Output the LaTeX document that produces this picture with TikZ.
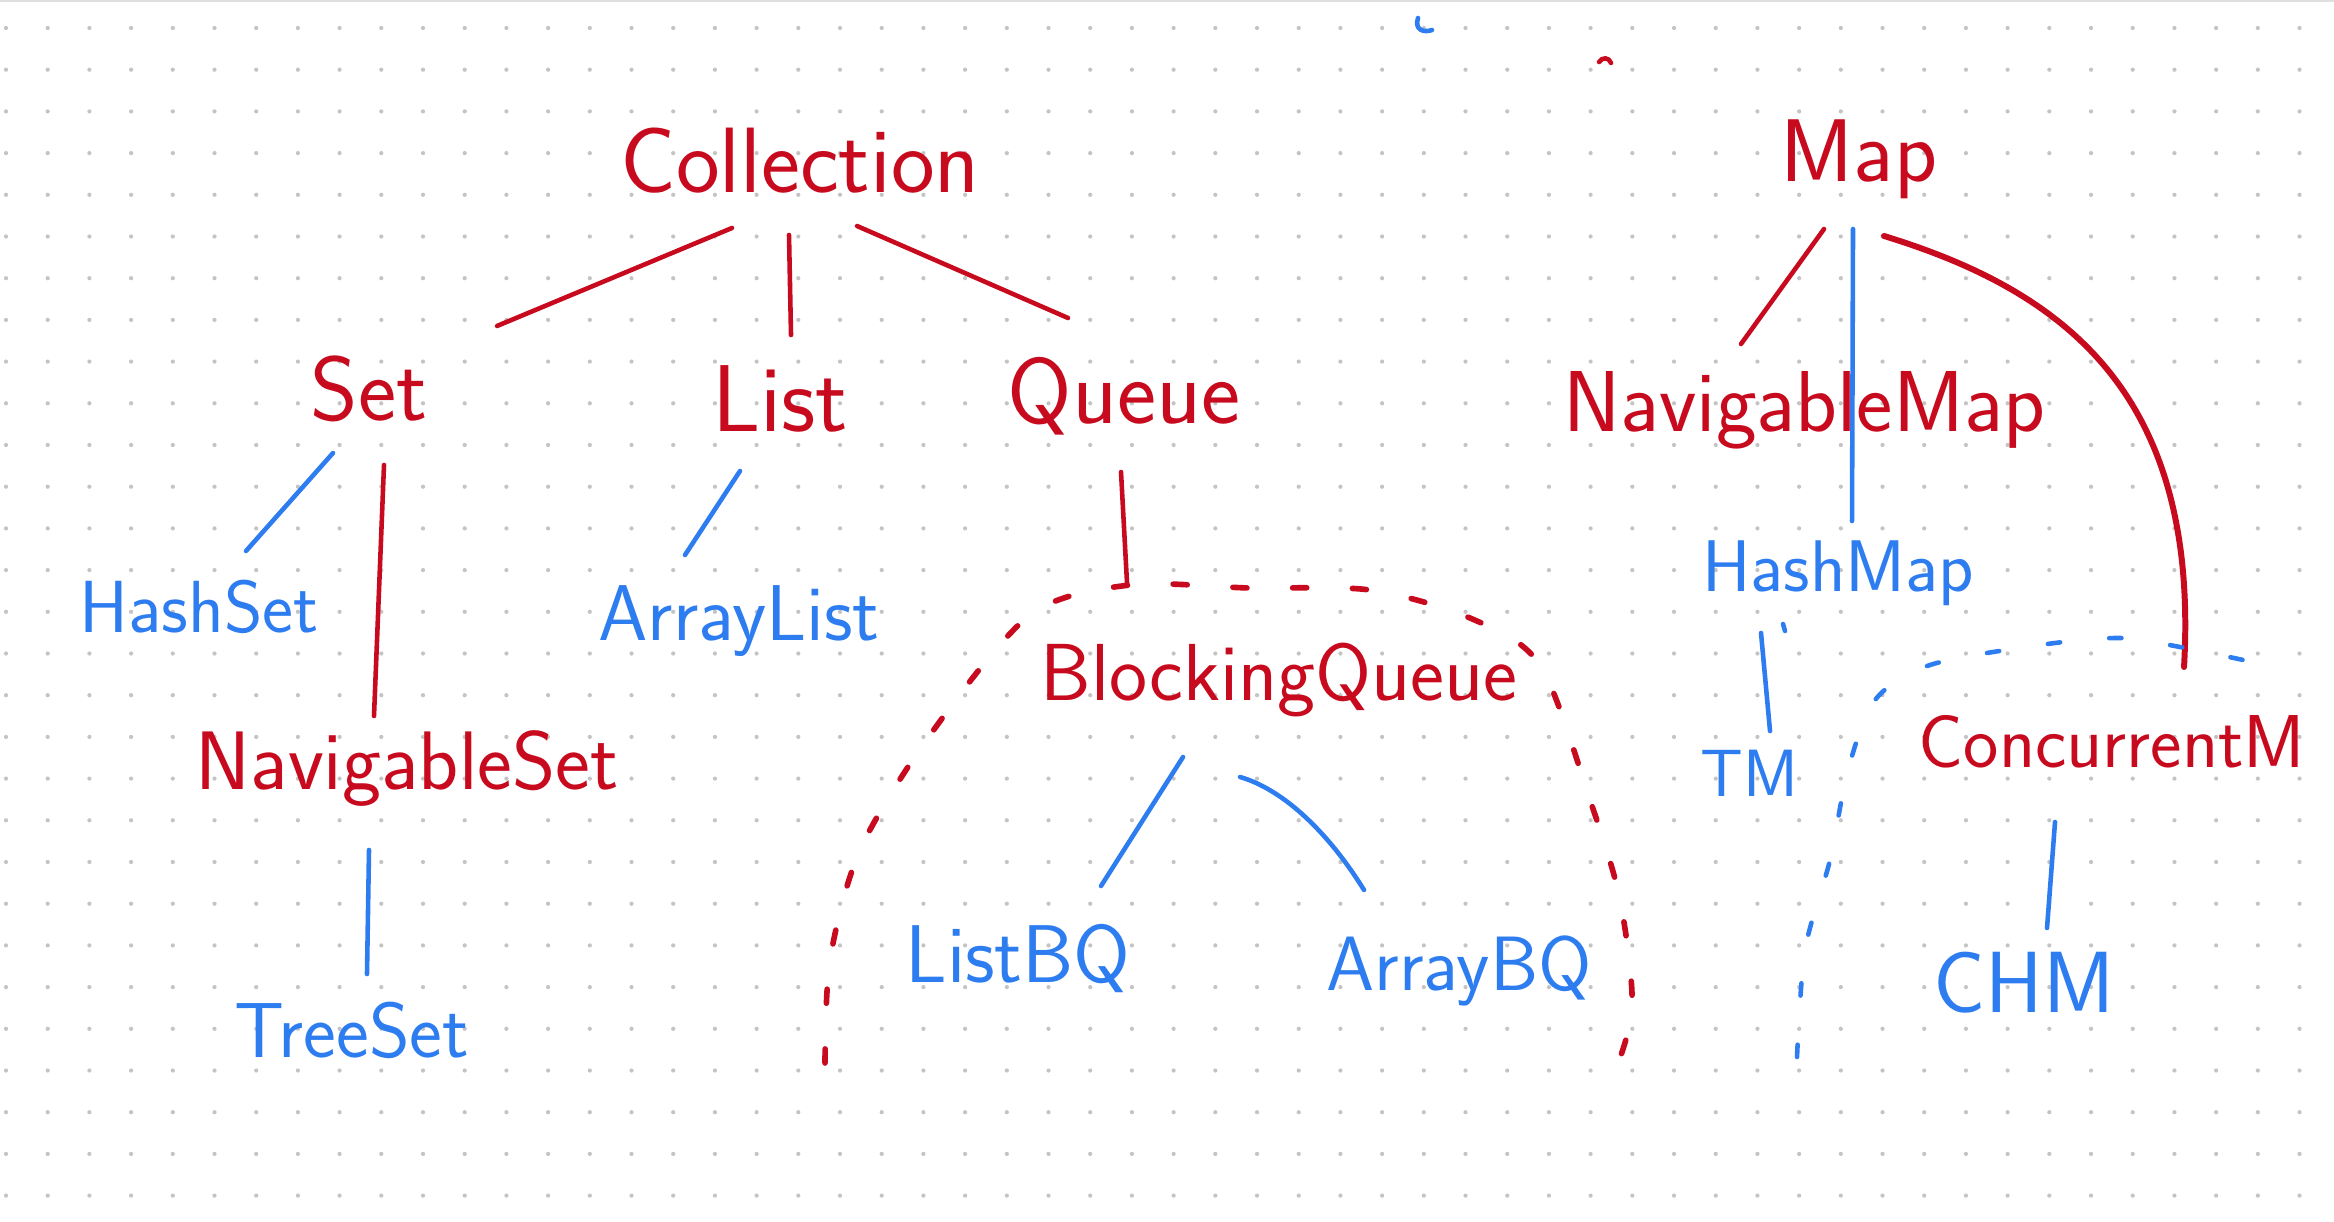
\documentclass[tikz,border=0pt]{standalone}
\usepackage{fontspec}
\usetikzlibrary{positioning,calc}
\definecolor{inkred}{RGB}{200,10,30}
\definecolor{inkblue}{RGB}{45,125,240}
\definecolor{griddot}{RGB}{196,196,196}

\begin{document}
\begin{tikzpicture}[
  x=0.01cm, y=-0.01cm,
  iface/.style={text=inkred, inner sep=0pt, anchor=base, font=\sffamily\fontsize{#1}{#1}\selectfont},
  impl/.style={text=inkblue, inner sep=0pt, anchor=base, font=\sffamily\fontsize{#1}{#1}\selectfont},
  redline/.style={draw=inkred, line width=1.3pt, line cap=round},
  blueline/.style={draw=inkblue, line width=1.3pt, line cap=round},
  redgroup/.style={draw=inkred, line width=1.6pt, line cap=round, dash pattern=on 4pt off 13pt},
  bluegroup/.style={draw=inkblue, line width=1.3pt, line cap=round, dash pattern=on 3.5pt off 14pt}
]
% dotted page
\fill[white] (0,0) rectangle (2334,1222);
\useasboundingbox (0,0) rectangle (2334,1222);
\draw[gray!25, line width=0.5pt] (0,1) -- (2334,1);
\foreach \i in {0,...,55}
  \foreach \j in {0,...,28}
    \fill[griddot] (6+41.7*\i, 28+41.7*\j) circle (0.6pt);

% interfaces and classes
\node[iface=26.4] (coll) at (800,193) {Collection};
\node[iface=25.3] (map) at (1859,182) {Map};
\node[iface=25.9] (set) at (369,421) {Set};
\node[iface=27] (list) at (780,432) {List};
\node[iface=26.5] (queue) at (1124,424) {Queue};
\node[iface=24.6] (navmap) at (1804,432) {NavigableMap};
\node[impl=21] (hashset) at (199,633) {HashSet};
\node[impl=22.5] (arrlist) at (739,640) {ArrayList};
\node[iface=23.6] (navset) at (407,789) {NavigableSet};
\node[impl=22.2] (treeset) at (352,1057) {TreeSet};
\node[iface=23] (bq) at (1279,700) {BlockingQueue};
\node[impl=23.3] (listbq) at (1018,982) {ListBQ};
\node[impl=21.9] (arrbq) at (1459,990) {ArrayBQ};
\node[impl=20.8] (hashmap) at (1838,592) {HashMap};
\node[impl=19] (tm) at (1749,796) {TM};
\node[iface=21.3] (conc) at (2112,767) {ConcurrentM};
\node[impl=24.7] (chm) at (2024,1012) {CHM};

% red links
\draw[redline] ($(coll.base)+(-68,35)$) -- ($(set.base)+(128,-95)$);
\draw[redline] ($(coll.base)+(-11,42)$) -- ($(list.base)+(11,-97)$);
\draw[redline] ($(coll.base)+(57,33)$) -- ($(queue.base)+(-56,-106)$);
\draw[redline] ($(set.base)+(15,44)$) -- ($(navset.base)+(-33,-73)$);
\draw[redline] ($(queue.base)+(-3,48)$) -- ($(bq.base)+(-152,-117)$);
\draw[redline] ($(map.base)+(-35,47)$) -- ($(navmap.base)+(-63,-88)$);
\draw[redline, line width=1.7pt] ($(map.base)+(25,54)$)
  .. controls (2060,290) and (2200,390) .. ($(conc.base)+(72,-100)$);

% blue links
\draw[blueline] ($(set.base)+(-36,32)$) -- ($(hashset.base)+(47,-82)$);
\draw[blueline] ($(list.base)+(-40,39)$) -- ($(arrlist.base)+(-54,-85)$);
\draw[blueline] ($(navset.base)+(-38,61)$) -- ($(treeset.base)+(15,-83)$);
\draw[blueline] ($(bq.base)+(-96,57)$) -- ($(listbq.base)+(83,-96)$);
\draw[blueline] ($(bq.base)+(-39,77)$) .. controls (1285,790) and (1330,835) .. ($(arrbq.base)+(-95,-100)$);
\draw[blueline] ($(map.base)+(-6,47)$) -- ($(hashmap.base)+(14,-71)$);
\draw[blueline] ($(hashmap.base)+(-77,41)$) -- ($(tm.base)+(21,-65)$);
\draw[blueline] ($(conc.base)+(-57,55)$) -- ($(chm.base)+(23,-84)$);

% dashed groups
\draw[redgroup] plot[smooth] coordinates {(825,1063) (830,960) (860,850) (930,735) (1030,615)
  (1130,585) (1250,588) (1370,590) (1470,618) (1540,665) (1590,800) (1620,900) (1632,1010) (1609,1087)};
\draw[bluegroup] plot[smooth] coordinates {(1797,1057) (1805,950) (1830,860) (1848,770) (1875,700)
  (1930,665) (2040,645) (2120,638) (2180,647) (2262,664)};

% stray marks
\draw[blueline] (1418,18) .. controls (1414,30) and (1424,33) .. (1432,30);
\draw[redline] (1599,62) .. controls (1602,57) and (1609,57) .. (1611,63);
\draw[blueline] (1783,624) -- (1785,631);
\end{tikzpicture}
\end{document}
